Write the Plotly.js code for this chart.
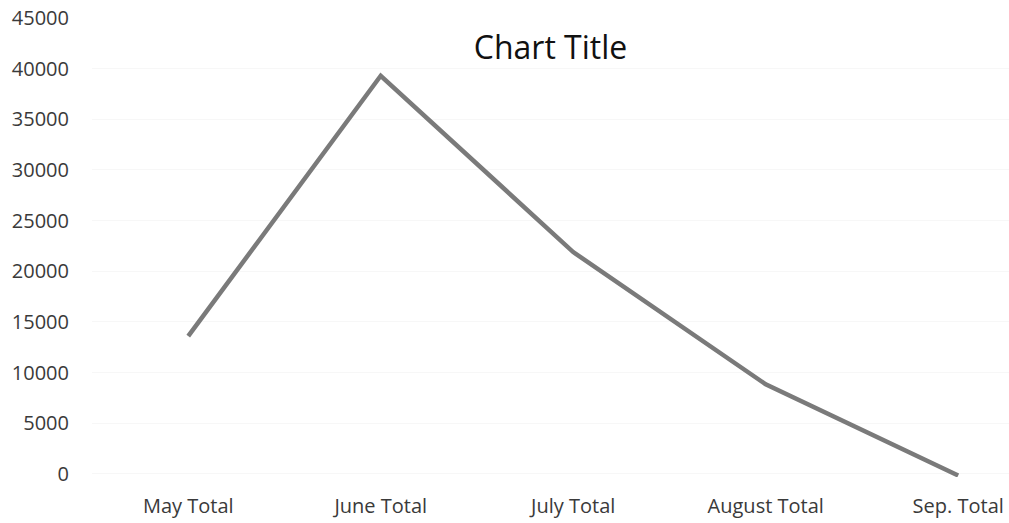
<!DOCTYPE html>
<html>
<head>
<meta charset="utf-8">
<script src="https://cdn.plot.ly/plotly-3.0.1.min.js"></script>
<style>html,body{margin:0;padding:0;background:#fff;}#chart{width:1009px;height:523px;}</style>
</head>
<body>
<div id="chart"></div>
<script>
const categories = ["May Total", "June Total", "July Total", "August Total", "Sep. Total"];
const totals = [13600, 39300, 21900, 8850, -150];
const yTicks = [0, 5000, 10000, 15000, 20000, 25000, 30000, 35000, 40000, 45000];

const trace = {
  x: categories,
  y: totals,
  type: 'scatter',
  mode: 'lines',
  line: {color: '#7a7a7a', width: 4.5},
  hoverinfo: 'skip'
};

const layout = {
  width: 1009,
  height: 523,
  margin: {l: 92, r: 0, t: 18, b: 46},
  paper_bgcolor: '#ffffff',
  plot_bgcolor: '#ffffff',
  showlegend: false,
  font: {family: 'Open Sans, sans-serif', color: '#3a3a3a', size: 20},
  title: {
    text: 'Chart Title',
    font: {family: 'Open Sans, sans-serif', size: 32, color: '#111111'},
    x: 0.5, xref: 'paper',
    y: 1 - 48/523, yref: 'container', yanchor: 'middle'
  },
  xaxis: {
    type: 'category',
    range: [-0.5, 4.264],
    showgrid: false,
    zeroline: false,
    showline: false,
    ticks: '',
    ticklabelstandoff: 15,
    tickfont: {size: 20, color: '#3a3a3a'}
  },
  yaxis: {
    range: [-300, 45000],
    tickvals: yTicks,
    ticktext: yTicks.map(String),
    showgrid: true,
    gridcolor: '#f7f7f7',
    zeroline: false,
    showline: false,
    ticks: '',
    ticklabelstandoff: 22,
    tickfont: {size: 20, color: '#3a3a3a'}
  }
};

Plotly.newPlot('chart', [trace], layout, {staticPlot: true, displayModeBar: false});
</script>
</body>
</html>
